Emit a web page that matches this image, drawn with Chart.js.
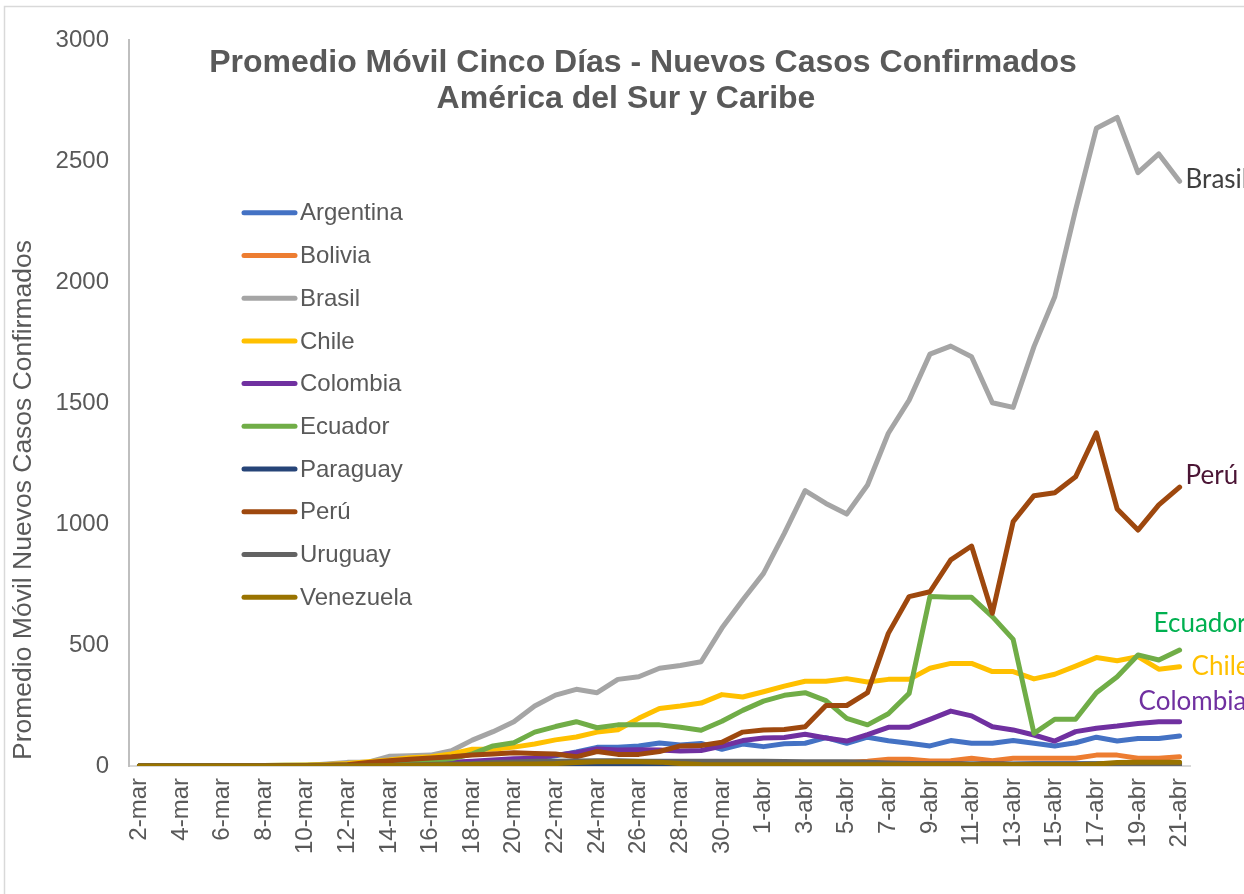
<!DOCTYPE html>
<html>
<head>
<meta charset="utf-8">
<script src="https://cdn.jsdelivr.net/npm/chart.js@4.4.1/dist/chart.umd.min.js"></script>
<style>
html,body{margin:0;padding:0;background:#fff;overflow:hidden}
canvas{display:block}
</style>
</head>
<body>
<canvas id="c" width="1244" height="894"></canvas>
<script>
// ---------- DATA ----------
const dates = ['2-mar','3-mar','4-mar','5-mar','6-mar','7-mar','8-mar','9-mar','10-mar','11-mar',
  '12-mar','13-mar','14-mar','15-mar','16-mar','17-mar','18-mar','19-mar','20-mar','21-mar',
  '22-mar','23-mar','24-mar','25-mar','26-mar','27-mar','28-mar','29-mar','30-mar','31-mar',
  '1-abr','2-abr','3-abr','4-abr','5-abr','6-abr','7-abr','8-abr','9-abr','10-abr',
  '11-abr','12-abr','13-abr','14-abr','15-abr','16-abr','17-abr','18-abr','19-abr','20-abr','21-abr'];

const countries = ['Argentina','Bolivia','Brasil','Chile','Colombia','Ecuador','Paraguay','Perú','Uruguay','Venezuela'];

const argentina = [0,0,0,0,1,1,1,2,2,3, 4,5,6,8,10,12,15,18,22,30, 42,58,77,77,83,95,87,93,69,91,
  80,92,94,117,94,119,104,94,83,105, 94,94,105,94,83,96,119,103,114,114,124];
const bolivia = [0,0,0,0,0,0,0,0,0,0, 1,1,2,2,2,2,2,3,3,3, 4,4,5,5,6,7,8,8,9,10,
  10,11,12,12,14,20,28,28,21,22, 32,22,32,32,32,32,45,45,32,32,38];
const brasil = [0,0,0,0,1,1,1,2,2,8, 15,16,40,42,45,63,107,142,183,248, 293,317,303,358,369,404,415,431,570,686,
  796,961,1138,1085,1041,1161,1375,1512,1702,1735, 1691,1501,1482,1733,1939,2298,2635,2680,2452,2529,2416];
const chile = [0,0,1,1,1,2,2,3,4,6, 10,18,25,34,38,50,69,69,78,91, 108,120,140,150,197,238,248,260,295,285,
  307,330,350,350,361,347,358,358,404,424, 424,390,390,360,379,413,448,435,452,400,410];
const colombia = [0,0,0,0,0,0,0,1,1,2, 3,4,6,10,12,15,20,25,30,32, 45,55,70,66,67,66,62,64,82,105,
  116,118,131,116,103,130,160,160,193,227, 207,162,149,128,103,142,156,165,176,183,183];
const ecuador = [1,1,1,1,1,2,2,3,3,3, 4,5,6,10,20,30,50,83,96,140, 163,183,158,170,170,170,160,148,185,230,
  268,292,303,270,197,170,216,300,700,697, 697,617,523,135,193,193,303,369,459,438,479];
const paraguay = [0,0,0,0,0,0,1,1,1,1, 1,1,1,1,2,2,2,3,3,4, 4,3,3,3,3,4,5,5,6,6,
  6,7,7,7,8,8,8,8,8,8, 8,8,8,9,9,9,9,9,9,9,9];
const peru = [0,0,0,0,1,1,1,2,2,3, 5,15,22,28,33,38,45,50,55,52, 50,38,60,48,48,60,83,85,98,140,
  149,151,162,250,250,303,548,700,720,852, 909,631,1010,1117,1129,1195,1377,1062,975,1079,1152];
const uruguay = [0,0,0,0,0,0,0,0,0,0, 0,0,2,4,6,8,10,14,17,20, 20,21,22,22,20,20,20,20,20,20,
  20,19,18,18,18,15,12,10,8,8, 7,7,6,6,6,5,5,5,5,5,5];
const venezuela = [0,0,0,0,0,0,0,0,0,0, 0,1,2,3,4,5,6,7,8,8, 10,14,18,18,18,16,10,6,5,5,
  5,5,5,5,5,5,5,5,5,5, 5,5,5,5,5,5,8,14,15,15,15];

const seriesValues = [argentina, bolivia, brasil, chile, colombia, ecuador, paraguay, peru, uruguay, venezuela];
const yTicks = [0, 500, 1000, 1500, 2000, 2500, 3000];
const titleLines = ['Promedio Móvil Cinco Días - Nuevos Casos Confirmados', 'América del Sur y Caribe'];
const yAxisTitle = 'Promedio Móvil Nuevos Casos Confirmados';
const endLabels = ['Brasil', 'Perú', 'Ecuador', 'Chile', 'Colombia'];

// ---------- STYLE ----------
const colors = ['#4472C4','#ED7D31','#A5A5A5','#FFC000','#7030A0','#70AD47','#264478','#9E480E','#636363','#997300'];
const endLabelStyle = {
  'Brasil':   {dx: 6,   dy: 7,   color: '#404040'},
  'Perú':     {dx: 6,   dy: -3,  color: '#4B1535'},
  'Ecuador':  {dx: -26, dy: -18, color: '#00B050'},
  'Chile':    {dx: 12,  dy: 8,   color: '#FFC000'},
  'Colombia': {dx: -41, dy: -12, color: '#7030A0'}
};
const FONT = "'Liberation Sans', Arial, sans-serif";
const GRAY = '#595959';

const decoPlugin = {
  id: 'deco',
  beforeDraw(chart) {
    const ctx = chart.ctx;
    ctx.save();
    ctx.fillStyle = '#fff';
    ctx.fillRect(0, 0, chart.width, chart.height);
    ctx.strokeStyle = '#D9D9D9';
    ctx.lineWidth = 1.5;
    ctx.beginPath();
    ctx.moveTo(4.5, chart.height);
    ctx.lineTo(4.5, 6.5);
    ctx.lineTo(chart.width, 6.5);
    ctx.stroke();
    ctx.restore();
  },
  afterDraw(chart) {
    const ctx = chart.ctx;
    ctx.save();
    // title
    ctx.fillStyle = GRAY;
    ctx.font = 'bold 32px ' + FONT;
    ctx.textAlign = 'center';
    ctx.textBaseline = 'alphabetic';
    ctx.fillText(titleLines[0], 643, 72);
    ctx.fillText(titleLines[1], 626, 108);

    // y axis title
    ctx.save();
    ctx.translate(24, 500);
    ctx.rotate(-Math.PI / 2);
    ctx.font = '26.5px ' + FONT;
    ctx.textAlign = 'center';
    ctx.textBaseline = 'middle';
    ctx.fillText(yAxisTitle, 0, 0);
    ctx.restore();

    // legend
    ctx.font = '24px ' + FONT;
    ctx.textAlign = 'left';
    ctx.textBaseline = 'middle';
    ctx.lineCap = 'round';
    countries.forEach((name, i) => {
      const y = 212.7 + i * 42.73;
      ctx.strokeStyle = colors[i];
      ctx.lineWidth = 5;
      ctx.beginPath();
      ctx.moveTo(244, y);
      ctx.lineTo(295, y);
      ctx.stroke();
      ctx.fillStyle = GRAY;
      ctx.fillText(name, 300, y + 1);
    });

    // end labels
    ctx.font = '26px Lato, ' + FONT;
    ctx.textBaseline = 'alphabetic';
    endLabels.forEach(name => {
      const idx = countries.indexOf(name);
      const meta = chart.getDatasetMeta(idx);
      const pt = meta.data[meta.data.length - 1];
      const st = endLabelStyle[name];
      ctx.fillStyle = st.color;
      ctx.fillText(name, pt.x + st.dx, pt.y + st.dy);
    });
    ctx.restore();
  }
};

const datasets = countries.map((name, i) => ({
  label: name,
  data: seriesValues[i],
  borderColor: colors[i],
  backgroundColor: colors[i],
  borderWidth: 5,
  pointRadius: 0,
  pointHoverRadius: 0,
  tension: 0,
  fill: false,
  borderCapStyle: 'round',
  borderJoinStyle: 'round',
  order: countries.length - 1 - i
}));

new Chart(document.getElementById('c'), {
  type: 'line',
  data: { labels: dates, datasets },
  plugins: [decoPlugin],
  options: {
    responsive: false,
    animation: false,
    devicePixelRatio: 1,
    layout: { padding: { top: 40, right: 54, bottom: 0, left: 0 } },
    plugins: { legend: { display: false }, tooltip: { enabled: false }, title: { display: false } },
    scales: {
      x: {
        type: 'category',
        offset: true,
        grid: { display: true, color: 'rgba(0,0,0,0)', drawTicks: false },
        border: { display: true, color: '#D9D9D9', width: 2 },
        ticks: {
          autoSkip: false, maxRotation: 90, minRotation: 90, padding: 12,
          color: GRAY, font: { family: FONT, size: 24 },
          callback: (v, i) => (i % 2 === 0 ? dates[i] : '')
        },
        afterFit: s => { s.height = 128; }
      },
      y: {
        min: 0, max: 3000,
        grid: { display: true, color: 'rgba(0,0,0,0)', drawTicks: false },
        border: { display: true, color: '#BFBFBF', width: 2 },
        afterBuildTicks: s => { s.ticks = yTicks.map(v => ({ value: v })); },
        ticks: { padding: 20, color: GRAY, font: { family: FONT, size: 24 }, callback: v => String(v) },
        afterFit: s => { s.width = 129; }
      }
    }
  }
});
</script>
</body>
</html>
